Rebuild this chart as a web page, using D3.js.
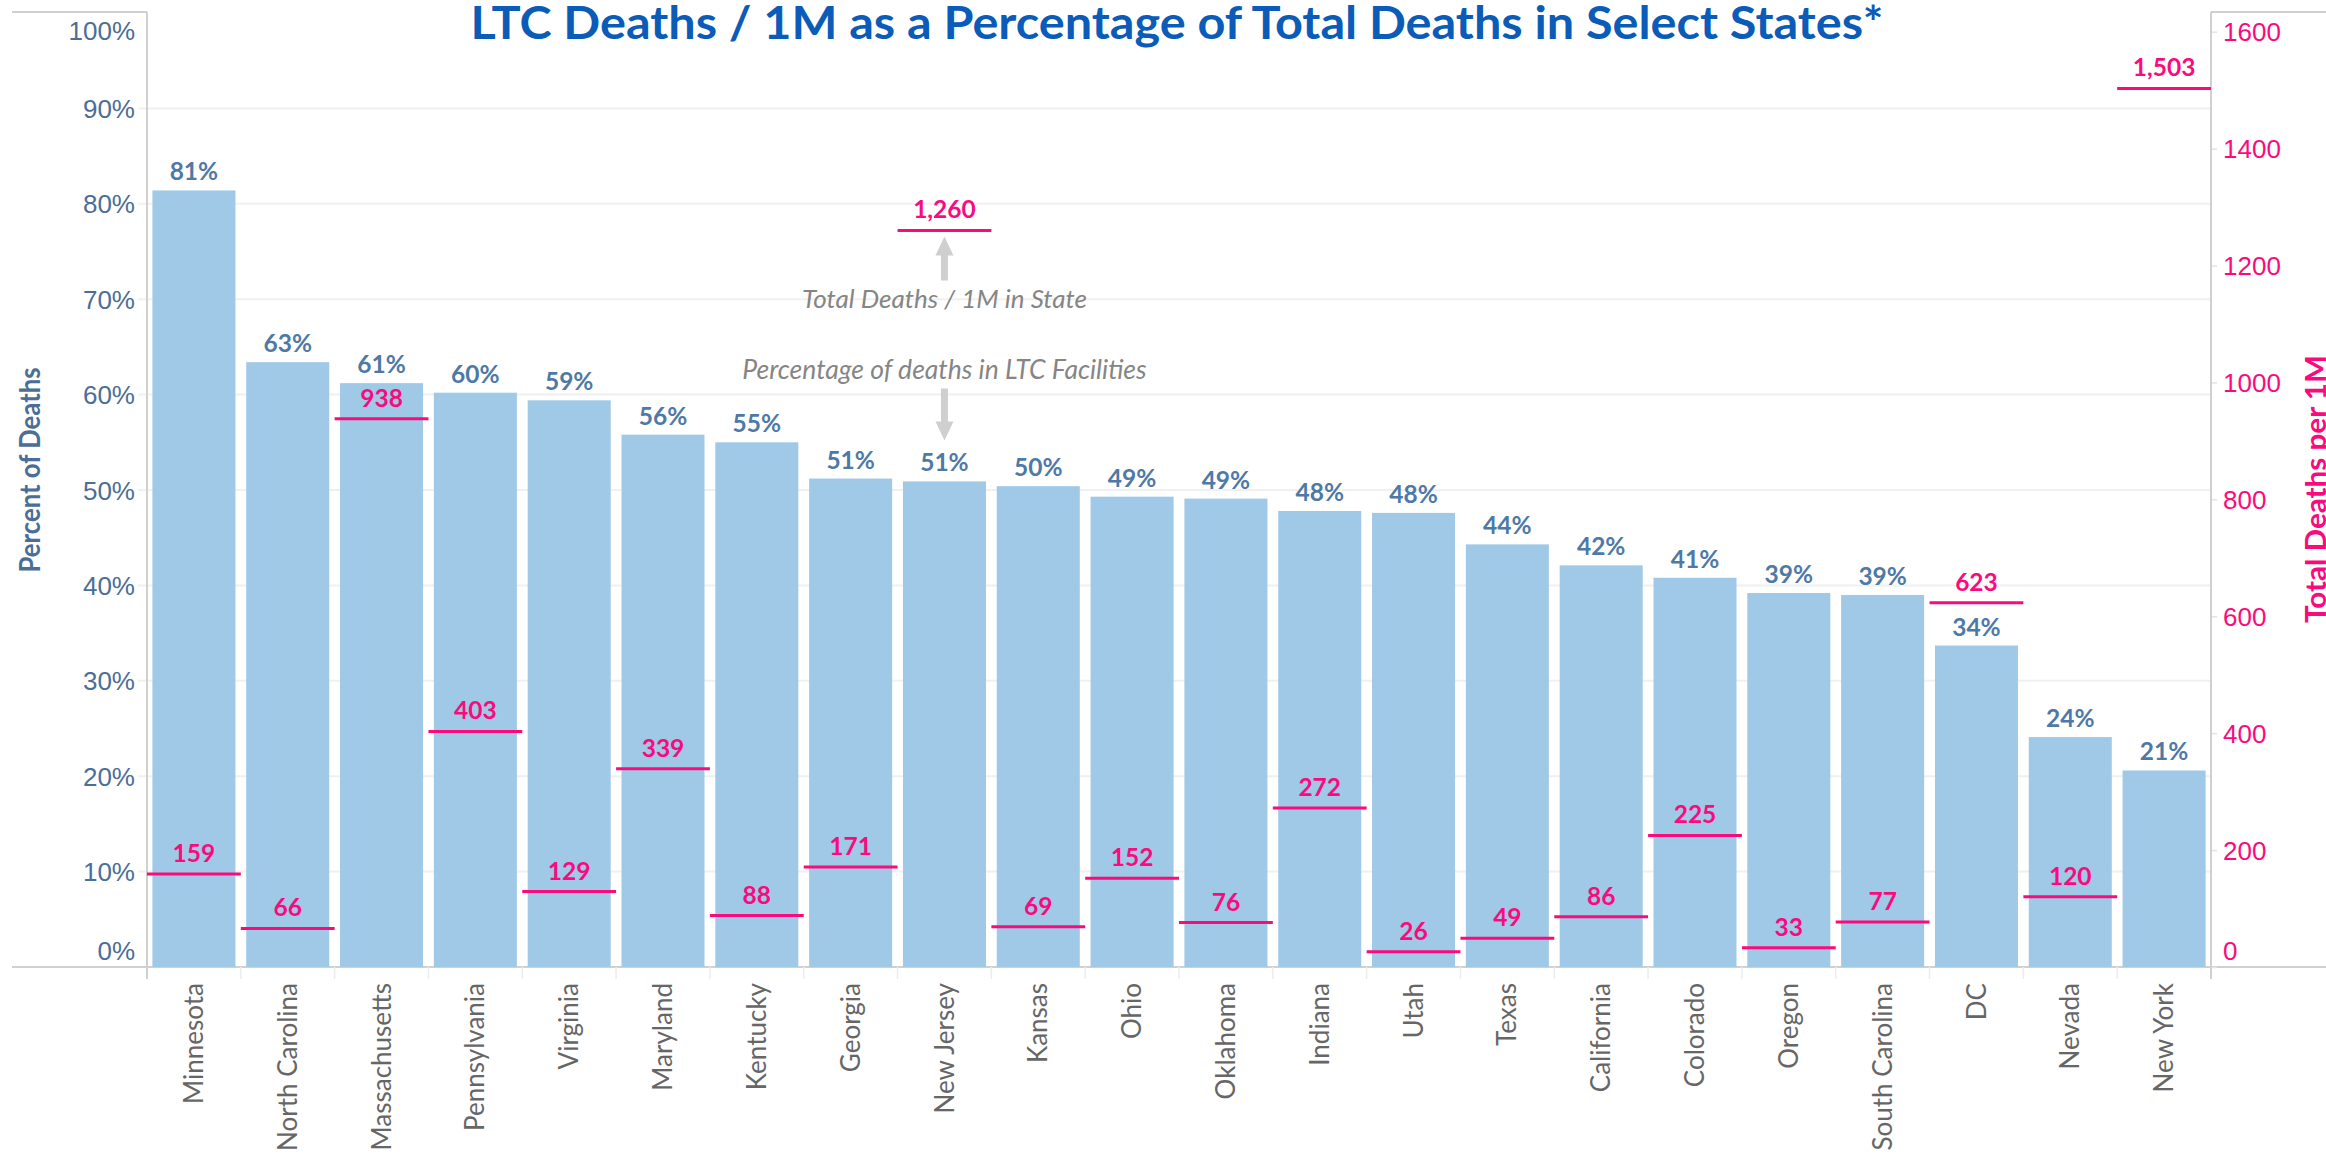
<!DOCTYPE html>
<html>
<head>
<meta charset="utf-8">
<script src="https://cdn.jsdelivr.net/npm/d3@7"></script>
<style>
  body { margin: 0; background: #ffffff; }
  svg { display: block; font-family: Lato, "Open Sans", sans-serif; }
</style>
</head>
<body>
<div id="chart"></div>
<script>
// States, sorted by share of deaths in LTC facilities
var states = ['Minnesota', 'North Carolina', 'Massachusetts', 'Pennsylvania', 'Virginia', 'Maryland',
    'Kentucky', 'Georgia', 'New Jersey', 'Kansas', 'Ohio', 'Oklahoma', 'Indiana', 'Utah', 'Texas',
    'California', 'Colorado', 'Oregon', 'South Carolina', 'DC', 'Nevada', 'New York'];

// Percent of deaths in LTC facilities (bars, left axis)
var ltcShare = [0.814, 0.634, 0.612, 0.602, 0.594, 0.558, 0.550, 0.512, 0.509, 0.504, 0.493,
    0.491, 0.478, 0.476, 0.443, 0.421, 0.408, 0.392, 0.390, 0.337, 0.241, 0.206];

// Total deaths per 1M in state (red ticks, right axis)
var deathsPer1M = [159, 66, 938, 403, 129, 339, 88, 171, 1260, 69, 152, 76, 272, 26, 49, 86,
    225, 33, 77, 623, 120, 1503];

var pctTicks = [0, 0.1, 0.2, 0.3, 0.4, 0.5, 0.6, 0.7, 0.8, 0.9, 1.0];
var deathTicks = [0, 200, 400, 600, 800, 1000, 1200, 1400, 1600];

var width = 2326;
var height = 1156;

// plot frame
var plotLeft = 147;
var plotRight = 2211;
var plotTop = 13;
var plotBottom = 967;

var barColor = '#a0c9e7';
var barLabelColor = '#4e79a7';
var pink = '#fb0a7e';
var axisTextColor = '#4b6e98';
var frameColor = '#d0d0d0';

var svg = d3.select('#chart')
    .append('svg')
    .attr('width', width)
    .attr('height', height);

var x = d3.scaleBand()
    .domain(states)
    .range([plotLeft, plotRight])
    .paddingInner(0.115)
    .paddingOuter(0.0575);

var yLeft = d3.scaleLinear().domain([0, 1]).range([plotBottom, plotTop]);
var yRight = d3.scaleLinear().domain([0, 1632]).range([plotBottom, plotTop]);

var step = x.step();
function center(s) { return x(s) + x.bandwidth() / 2; }

var rows = states.map(function (s, i) {
    return { state: s, share: ltcShare[i], deaths: deathsPer1M[i] };
});

// gridlines
svg.append('g')
    .selectAll('line')
    .data(pctTicks.slice(1, -1))
    .join('line')
    .attr('x1', plotLeft - 9)
    .attr('x2', plotRight)
    .attr('y1', function (d) { return yLeft(d); })
    .attr('y2', function (d) { return yLeft(d); })
    .style('stroke', '#f0f0f0')
    .style('stroke-width', 2);

// frame lines (header tops, baseline)
var frame = svg.append('g').style('stroke', frameColor).style('stroke-width', 2);
frame.append('line').attr('x1', 12).attr('x2', plotLeft).attr('y1', 12).attr('y2', 12);
frame.append('line').attr('x1', plotRight).attr('x2', width).attr('y1', 12).attr('y2', 12);
frame.append('line').attr('x1', 12).attr('x2', width).attr('y1', plotBottom).attr('y2', plotBottom);

// category separators below baseline
svg.append('g')
    .selectAll('line')
    .data(states.concat(['end']))
    .join('line')
    .attr('x1', function (d, i) { return plotLeft + i * step; })
    .attr('x2', function (d, i) { return plotLeft + i * step; })
    .attr('y1', plotBottom)
    .attr('y2', plotBottom + 12)
    .style('stroke', '#ececec')
    .style('stroke-width', 1.5);

// left axis
var leftAxis = svg.append('g')
    .attr('transform', 'translate(' + plotLeft + ',0)')
    .call(d3.axisLeft(yLeft)
        .tickValues(pctTicks)
        .tickFormat(d3.format('.0%'))
        .tickSize(0)
        .tickPadding(12));
leftAxis.select('.domain').remove();
leftAxis.append('line')
    .attr('y1', 12).attr('y2', plotBottom + 12)
    .style('stroke', frameColor).style('stroke-width', 2);
leftAxis.selectAll('text')
    .style('font-size', '26px')
    .style('fill', axisTextColor)
    .attr('dy', function (d) {
        // Tableau pulls the end labels inside the pane
        if (d === 0) return '-0.3em';
        if (d === 1) return '1.0em';
        return '0.35em';
    });

// right axis
var rightAxis = svg.append('g')
    .attr('transform', 'translate(' + plotRight + ',0)')
    .call(d3.axisRight(yRight)
        .tickValues(deathTicks)
        .tickFormat(d3.format('d'))
        .tickSize(6)
        .tickPadding(6));
rightAxis.select('.domain').remove();
rightAxis.append('line')
    .attr('y1', 12).attr('y2', plotBottom + 12)
    .style('stroke', frameColor).style('stroke-width', 2);
rightAxis.selectAll('.tick line').style('stroke', '#e4e4e4').style('stroke-width', 1.5);
rightAxis.selectAll('text')
    .style('font-size', '26px')
    .style('fill', pink)
    .attr('dy', function (d) { return d === 0 ? '-0.3em' : '0.35em'; });

// bars
svg.append('g')
    .selectAll('rect')
    .data(rows)
    .join('rect')
    .attr('x', function (d) { return x(d.state); })
    .attr('width', x.bandwidth())
    .attr('y', function (d) { return yLeft(d.share); })
    .attr('height', function (d) { return yLeft(0) - yLeft(d.share); })
    .style('fill', barColor);

// bar labels
svg.append('g')
    .selectAll('text')
    .data(rows)
    .join('text')
    .attr('x', function (d) { return center(d.state); })
    .attr('y', function (d) { return yLeft(d.share) - 10; })
    .style('text-anchor', 'middle')
    .style('font-size', '24.5px')
    .style('font-weight', 'bold')
    .style('fill', barLabelColor)
    .text(function (d) { return d3.format('.0%')(d.share); });

// deaths per 1M ticks
svg.append('g')
    .selectAll('line')
    .data(rows)
    .join('line')
    .attr('x1', function (d) { return center(d.state) - step / 2; })
    .attr('x2', function (d) { return center(d.state) + step / 2; })
    .attr('y1', function (d) { return yRight(d.deaths); })
    .attr('y2', function (d) { return yRight(d.deaths); })
    .style('stroke', pink)
    .style('stroke-width', 3);

svg.append('g')
    .selectAll('text')
    .data(rows)
    .join('text')
    .attr('x', function (d) { return center(d.state); })
    .attr('y', function (d) { return yRight(d.deaths) - 12; })
    .style('text-anchor', 'middle')
    .style('font-size', '24.5px')
    .style('font-weight', 'bold')
    .style('fill', pink)
    .text(function (d) { return d3.format(',')(d.deaths); });

// category labels
svg.append('g')
    .selectAll('text')
    .data(states)
    .join('text')
    .attr('transform', function (d) {
        return 'translate(' + center(d) + ',' + (plotBottom + 16) + ') rotate(-90)';
    })
    .attr('dy', '0.35em')
    .style('text-anchor', 'end')
    .style('font-size', '26px')
    .style('fill', '#666666')
    .text(function (d) { return d; });

// axis titles
svg.append('text')
    .attr('transform', 'translate(30,470) rotate(-90)')
    .attr('dy', '0.35em')
    .attr('textLength', 205)
    .attr('lengthAdjust', 'spacingAndGlyphs')
    .style('text-anchor', 'middle')
    .style('font-size', '28px')
    .style('font-weight', 'bold')
    .style('fill', axisTextColor)
    .text('Percent of Deaths');

svg.append('text')
    .attr('transform', 'translate(2316,489) rotate(-90)')
    .attr('dy', '0.35em')
    .attr('textLength', 268)
    .attr('lengthAdjust', 'spacingAndGlyphs')
    .style('text-anchor', 'middle')
    .style('font-size', '28px')
    .style('font-weight', 'bold')
    .style('fill', pink)
    .text('Total Deaths per 1M');

// title
svg.append('text')
    .attr('x', 1177)
    .attr('y', 39)
    .attr('textLength', 1413)
    .attr('lengthAdjust', 'spacingAndGlyphs')
    .style('text-anchor', 'middle')
    .style('font-size', '46px')
    .style('font-weight', 'bold')
    .style('fill', '#0b5cb8')
    .text('LTC Deaths / 1M as a Percentage of Total Deaths in Select States*');

// annotation pointing at New Jersey
var nj = rows[states.indexOf('New Jersey')];
var ax = center(nj.state);
var upTip = yRight(nj.deaths) + 6;
var downTip = yLeft(nj.share) - 41;
var arrowFill = '#cfcfcf';

function arrow(tipY, baseY) {
    var dir = tipY < baseY ? 1 : -1;
    var neck = tipY + dir * 19;
    return 'M' + ax + ',' + tipY +
        'L' + (ax + 9) + ',' + neck +
        'L' + (ax + 3.5) + ',' + neck +
        'L' + (ax + 3.5) + ',' + baseY +
        'L' + (ax - 3.5) + ',' + baseY +
        'L' + (ax - 3.5) + ',' + neck +
        'L' + (ax - 9) + ',' + neck + 'Z';
}

svg.append('path').attr('d', arrow(upTip, upTip + 44)).style('fill', arrowFill);
svg.append('path').attr('d', arrow(downTip, downTip - 52)).style('fill', arrowFill);

svg.append('text')
    .attr('x', ax)
    .attr('y', upTip + 72)
    .style('text-anchor', 'middle')
    .style('font-size', '26px')
    .style('font-style', 'italic')
    .style('fill', '#858585')
    .text('Total Deaths / 1M in State');

svg.append('text')
    .attr('x', ax)
    .attr('y', downTip - 61)
    .style('text-anchor', 'middle')
    .style('font-size', '26.5px')
    .style('font-style', 'italic')
    .style('fill', '#858585')
    .text('Percentage of deaths in LTC Facilities');
</script>
</body>
</html>
